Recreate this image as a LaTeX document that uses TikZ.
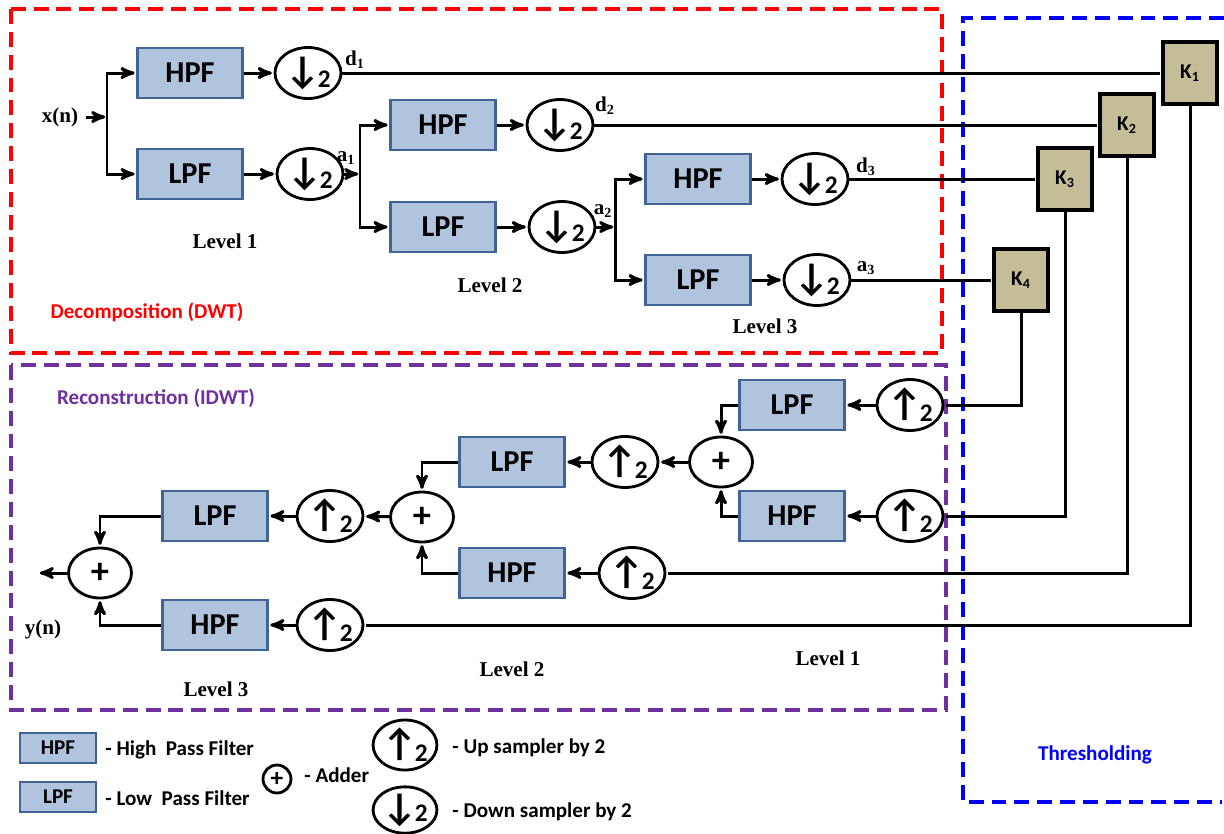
\documentclass[tikz,border=0pt]{standalone}
\usepackage{amsmath}
\usepackage{fontspec}
\setmainfont{Liberation Serif}
\newfontfamily\carlito{Carlito}
\usetikzlibrary{positioning,calc,arrows,shapes.geometric}
\usepackage{xcolor}
\definecolor{boxfill}{RGB}{176,196,222}
\definecolor{boxline}{RGB}{65,100,150}
\definecolor{kfill}{RGB}{196,189,151}
\definecolor{dwtred}{RGB}{255,0,0}
\definecolor{idwtpurple}{RGB}{112,48,160}
\definecolor{thrblue}{RGB}{0,0,255}
\newcommand{\downtwo}{{\carlito\bfseries\fontsize{22}{22}\selectfont ↓}\kern-1.5pt\raisebox{-0.6ex}{\carlito\bfseries\Large 2}}
\newcommand{\uptwo}{{\carlito\bfseries\fontsize{22}{22}\selectfont ↑}\kern-1.5pt\raisebox{-0.6ex}{\carlito\bfseries\Large 2}}

\begin{document}
\begin{tikzpicture}[x=0.02cm,y=-0.02cm,>=stealth',shorten >=1pt,line width=1.7pt,
filter node/.style={rectangle,draw=boxline,fill=boxfill,line width=1.3pt,minimum width=2.1cm,minimum height=1cm,font=\carlito\bfseries\LARGE},
samp node/.style={ellipse,draw,line width=1.6pt,minimum width=1.32cm,minimum height=1.02cm,inner sep=0pt},
add node/.style={ellipse,draw,line width=1.6pt,minimum width=1.26cm,minimum height=1cm,inner sep=0pt,font=\carlito\bfseries\huge},
k node/.style={rectangle,draw,fill=kfill,line width=1.8pt,minimum width=1.08cm,minimum height=1.24cm,font=\carlito\bfseries\large},
sig label/.style={font=\bfseries\large},
title label/.style={font=\carlito\bfseries\large},
frame/.style={dash pattern=on 8.5pt off 4.5pt,line width=1.8pt}]
\useasboundingbox (0,0) rectangle (1224,833);
% frames
  \draw[frame,dwtred] (11,9) rectangle (942,353);
  \draw[frame,idwtpurple] (11,365) rectangle (946,710);
  \draw[frame,thrblue] (1224,18) -- (963,18) -- (963,802) -- (1224,802);
  \node[title label,text=dwtred] (dwt) at (147,312) {Decomposition (DWT)};
  \node[title label,text=idwtpurple] (idwt) at (156,398) {Reconstruction (IDWT)};
  \node[title label,text=thrblue] (thr) at (1095,755) {Thresholding};
% decomposition nodes
  \node[sig label] (xn) at (60,117) {x(n)};
  \coordinate (br0) at (107,117);
  \node[filter node] (h1) at (190,73) {HPF};
  \node[filter node] (l1) at (190,174) {LPF};
  \node[samp node] (dn1a) at (308,73) {\downtwo};
  \node[samp node] (dn1b) at (310,174) {\downtwo};
  \coordinate (br1) at (360,174);
  \node[filter node] (h2) at (443,125) {HPF};
  \node[filter node] (l2) at (443,227) {LPF};
  \node[samp node] (dn2a) at (560,125) {\downtwo};
  \node[samp node] (dn2b) at (562,227) {\downtwo};
  \coordinate (br2) at (615,227);
  \node[filter node] (h3) at (698,179) {HPF};
  \node[filter node] (l3) at (698,280) {LPF};
  \node[samp node] (dn3a) at (815,179) {\downtwo};
  \node[samp node] (dn3b) at (817,280) {\downtwo};
  \node[sig label] (d1) at (355,60) {d\textsubscript{1}};
  \node[sig label] (a1) at (346,158) {a\textsubscript{1}};
  \node[sig label] (d2) at (605,106) {d\textsubscript{2}};
  \node[sig label] (a2) at (603,211) {a\textsubscript{2}};
  \node[sig label] (d3) at (866,167) {d\textsubscript{3}};
  \node[sig label] (a3) at (866,268) {a\textsubscript{3}};
  \node[sig label] (lev1) at (225,241) {Level 1};
  \node[sig label] (lev2) at (490,285) {Level 2};
  \node[sig label] (lev3) at (765,326) {Level 3};
% thresholds
  \node[k node] (k1) at (1190,73) {K\textsubscript{1}};
  \node[k node] (k2) at (1127,125) {K\textsubscript{2}};
  \node[k node] (k3) at (1065,179) {K\textsubscript{3}};
  \node[k node] (k4) at (1021,280) {K\textsubscript{4}};
% reconstruction nodes
  \node[samp node] (up1a) at (910,405) {\uptwo};
  \node[samp node] (up1b) at (910,516) {\uptwo};
  \node[filter node] (rl1) at (792,405) {LPF};
  \node[filter node] (rh1) at (792,516) {HPF};
  \node[add node] (add1) at (721,462) {+};
  \node[samp node] (up2a) at (625,462) {\uptwo};
  \node[samp node] (up2b) at (632,573) {\uptwo};
  \node[filter node] (rl2) at (512,462) {LPF};
  \node[filter node] (rh2) at (512,573) {HPF};
  \node[add node] (add2) at (422,517) {+};
  \node[samp node] (up3a) at (330,516) {\uptwo};
  \node[samp node] (up3b) at (330,625) {\uptwo};
  \node[filter node] (rl3) at (215,516) {LPF};
  \node[filter node] (rh3) at (215,625) {HPF};
  \node[add node] (add3) at (100,573) {+};
  \coordinate (yout) at (38,573);
  \node[sig label] (yn) at (43,629) {y(n)};
  \node[sig label] (rlev1) at (828,658) {Level 1};
  \node[sig label] (rlev2) at (512,669) {Level 2};
  \node[sig label] (rlev3) at (216,689) {Level 3};
% decomposition edges
  \draw[->] (xn) -- (br0);
  \draw[->] (br0) |- (h1);
  \draw[->] (br0) |- (l1);
  \draw[->] (h1) -- (dn1a);
  \draw[->] (l1) -- (dn1b);
  \draw[->] (dn1b) -- (br1);
  \draw[->] (br1) |- (h2);
  \draw[->] (br1) |- (l2);
  \draw[->] (h2) -- (dn2a);
  \draw[->] (l2) -- (dn2b);
  \draw[->] (dn2b) -- (br2);
  \draw[->] (br2) |- (h3);
  \draw[->] (br2) |- (l3);
  \draw[->] (h3) -- (dn3a);
  \draw[->] (l3) -- (dn3b);
  \draw (dn1a) -- (k1);
  \draw (dn2a) -- (k2);
  \draw (dn3a) -- (k3);
  \draw (dn3b) -- (k4);
% thresholds to reconstruction
  \draw (k4) |- (up1a);
  \draw (k3) |- (up1b);
  \draw (k2) |- (up2b);
  \draw (k1) |- (up3b);
% reconstruction edges
  \draw[->] (up1a) -- (rl1);
  \draw[->] (up1b) -- (rh1);
  \draw[->] (rl1) -| (add1);
  \draw[->] (rh1) -| (add1);
  \draw[->] (add1) -- (up2a);
  \draw[->] (up2a) -- (rl2);
  \draw[->] (up2b) -- (rh2);
  \draw[->] (rl2) -| (add2);
  \draw[->] (rh2) -| (add2);
  \draw[->] (add2) -- (up3a);
  \draw[->] (up3a) -- (rl3);
  \draw[->] (up3b) -- (rh3);
  \draw[->] (rl3) -| (add3);
  \draw[->] (rh3) -| (add3);
  \draw[->] (add3) -- (yout);
% legend
  \node[filter node,minimum width=1.52cm,minimum height=0.6cm,font=\carlito\bfseries\large] (lhpf) at (58,748) {HPF};
  \node[filter node,minimum width=1.52cm,minimum height=0.6cm,font=\carlito\bfseries\large] (llpf) at (58,797) {LPF};
  \node[title label,anchor=west] (lhtxt) at (98,750) {- High~ Pass Filter};
  \node[title label,anchor=west] (lltxt) at (98,798) {- Low~ Pass Filter};
  \node[circle,draw,line width=1.6pt,minimum size=0.56cm,inner sep=0pt,font=\carlito\bfseries\Large] (ladd) at (277,779) {+};
  \node[title label,anchor=west] (laddtxt) at (297,775) {- Adder};
  \node[samp node,minimum width=1.08cm,minimum height=1.0cm] (lup) at (405,745) {\uptwo};
  \node[samp node,minimum width=1.02cm,minimum height=0.92cm] (ldn) at (405,810) {{\carlito\bfseries\fontsize{22}{22}\selectfont ↓}\kern-1.5pt\raisebox{-0.2ex}{\carlito\bfseries\Large 2}};
  \node[title label,anchor=west] (luptxt) at (445,748) {- Up sampler by 2};
  \node[title label,anchor=west] (ldntxt) at (445,812) {- Down sampler by 2};
\end{tikzpicture}
\end{document}
